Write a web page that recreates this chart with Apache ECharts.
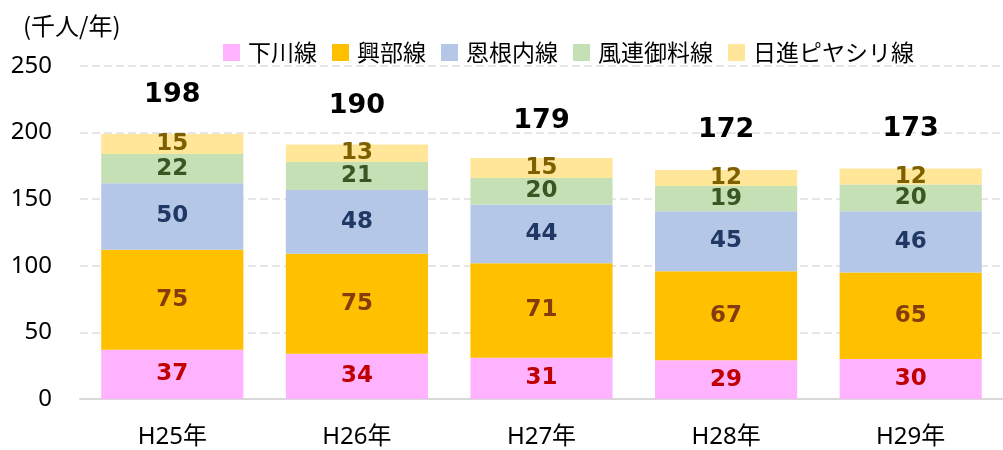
<!DOCTYPE html>
<html>
<head>
<meta charset="utf-8">
<script src="https://cdn.jsdelivr.net/npm/echarts@6/dist/echarts.min.js"></script>
<style>
  html, body { margin: 0; padding: 0; background: #fff; }
  #chart { width: 1003px; height: 450px; }
</style>
</head>
<body>
<div id="chart"></div>
<script>
// 路線別 利用者数
const years = ["H25年", "H26年", "H27年", "H28年", "H29年"];
const shimokawa = [37, 34, 31, 29, 30];
const kobe = [75, 75, 71, 67, 65];
const onne = [50, 48, 44, 45, 46];
const furen = [22, 21, 20, 19, 20];
const nisshin = [15, 13, 15, 12, 12];
const totals = [198, 190, 179, 172, 173];

const axisFont = "'Noto Sans', 'Noto Sans CJK JP', sans-serif";
const cjkFont = "'Noto Sans CJK JP', sans-serif";
const boldFont = "'DejaVu Sans', 'Noto Sans CJK JP', sans-serif";

function barSeries(name, data, color, labelColor) {
  return {
    name: name,
    type: "bar",
    stack: "all",
    data: data,
    barWidth: "77%",
    itemStyle: { color: color },
    label: {
      show: true,
      position: "inside",
      color: labelColor,
      fontFamily: boldFont,
      fontWeight: "bold",
      fontSize: 23,
    },
  };
}

const myChart = echarts.init(document.getElementById("chart"));
const option = {
  animation: false,
  title: {
    text: "(千人/年)",
    left: 18,
    top: 9,
    textStyle: { fontFamily: cjkFont, fontSize: 24, fontWeight: "normal", color: "#000" },
  },
  grid: { left: 80, right: -14, top: 66, bottom: 51, containLabel: false },
  legend: {
    data: ["下川線", "興部線", "恩根内線", "風連御料線", "日進ピヤシリ線"],
    top: 36,
    left: 218,
    icon: "rect",
    itemWidth: 17,
    itemHeight: 17,
    itemGap: 15,
    textStyle: {
      fontFamily: cjkFont,
      fontSize: 23,
      color: "#000",
      padding: [0, 0, 4, 3],
    },
  },
  xAxis: {
    type: "category",
    data: years,
    axisTick: { show: false },
    axisLine: { lineStyle: { color: "#D9D9D9", width: 2 } },
    axisLabel: { color: "#000", fontSize: 24, margin: 26, fontFamily: axisFont },
  },
  yAxis: {
    type: "value",
    min: 0,
    max: 250,
    interval: 50,
    axisLine: { show: false },
    axisTick: { show: false },
    axisLabel: { color: "#000", fontSize: 24, margin: 28, fontFamily: axisFont },
    splitLine: { lineStyle: { color: "#E6E6E6", width: 2, type: [8, 4] } },
  },
  series: [
    barSeries("下川線", shimokawa, "#FFB3FF", "#C00000"),
    barSeries("興部線", kobe, "#FFC000", "#843C0C"),
    barSeries("恩根内線", onne, "#B4C7E7", "#203864"),
    barSeries("風連御料線", furen, "#C5E0B4", "#385723"),
    barSeries("日進ピヤシリ線", nisshin, "#FFE699", "#7F6000"),
    {
      name: "合計",
      type: "line",
      data: totals,
      symbol: "circle",
      symbolSize: 1,
      itemStyle: { color: "transparent" },
      lineStyle: { opacity: 0 },
      label: {
        show: true,
        position: "top",
        distance: 26,
        color: "#000",
        fontFamily: boldFont,
        fontWeight: "bold",
        fontSize: 27,
      },
    },
  ],
};
myChart.setOption(option);
</script>
</body>
</html>
